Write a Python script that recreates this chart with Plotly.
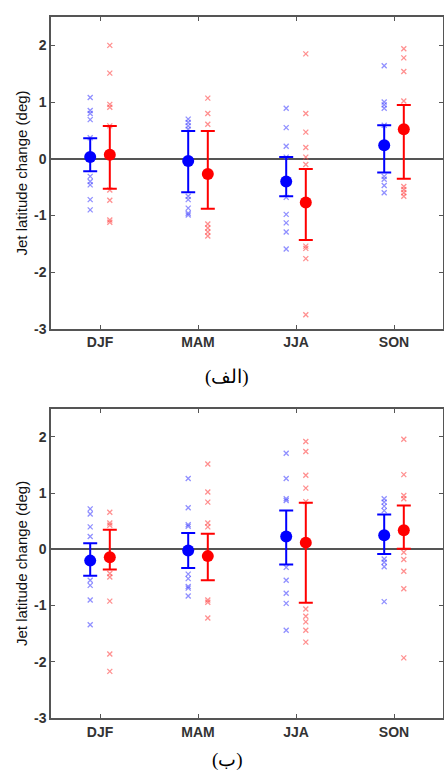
import plotly.graph_objects as go
from plotly.subplots import make_subplots

seasons = ["DJF", "MAM", "JJA", "SON"]
ytick_vals = [-3, -2, -1, 0, 1, 2]
ytick_text = ["-3", "-2", "-1", "0", "1", "2"]

# panel (الف) - individual model values
blue_pts_a = [
    [1.08, 0.85, 0.80, 0.69, 0.37, -0.31, -0.40, -0.46, -0.72, -0.90],
    [0.70, 0.64, 0.58, 0.52, -0.66, -0.72, -0.87, -0.96, -0.99],
    [0.89, 0.55, 0.22, 0.03, -0.68, -0.98, -1.13, -1.29, -1.59],
    [1.64, 1.00, 0.95, 0.89, 0.59, -0.31, -0.36, -0.47, -0.60],
]
red_pts_a = [
    [2.00, 1.51, 0.96, 0.91, 0.58, -0.55, -0.73, -1.08, -1.12],
    [1.07, 0.80, 0.61, -1.15, -1.22, -1.29, -1.36],
    [1.85, 0.80, 0.47, 0.20, 0.03, -0.10, -1.54, -1.58, -1.76, -2.75],
    [1.94, 1.78, 1.54, 1.02, -0.49, -0.54, -0.60, -0.66],
]
blue_mean_a = [0.03, -0.04, -0.40, 0.24]
blue_hi_a = [0.36, 0.49, 0.03, 0.59]
blue_lo_a = [-0.22, -0.59, -0.66, -0.24]
red_mean_a = [0.07, -0.27, -0.77, 0.52]
red_hi_a = [0.58, 0.49, -0.18, 0.95]
red_lo_a = [-0.53, -0.88, -1.43, -0.35]

# panel (ب)
blue_pts_b = [
    [0.72, 0.63, 0.40, 0.23, -0.55, -0.64, -0.90, -1.34],
    [1.26, 0.74, 0.44, 0.41, -0.44, -0.52, -0.66, -0.69, -0.83],
    [1.71, 1.26, 0.90, 0.87, -0.32, -0.55, -0.78, -0.96, -1.44],
    [0.90, 0.84, 0.77, 0.69, -0.17, -0.23, -0.31, -0.93],
]
red_pts_b = [
    [0.66, 0.47, 0.43, -0.43, -0.49, -0.92, -1.86, -2.17],
    [1.52, 1.02, 0.84, 0.47, 0.40, -0.90, -0.94, -1.22],
    [1.92, 1.74, 1.32, 1.09, 0.85, -1.06, -1.19, -1.29, -1.44, -1.65],
    [1.96, 1.33, 0.96, 0.90, -0.05, -0.18, -0.39, -0.70, -1.93],
]
blue_mean_b = [-0.20, -0.02, 0.23, 0.25]
blue_hi_b = [0.11, 0.29, 0.69, 0.62]
blue_lo_b = [-0.47, -0.33, -0.27, -0.08]
red_mean_b = [-0.14, -0.12, 0.12, 0.34]
red_hi_b = [0.35, 0.28, 0.83, 0.78]
red_lo_b = [-0.36, -0.55, -0.95, 0.01]

captions = ["(الف)", "(ب)"]

fig = make_subplots(rows=2, cols=1)

def add_panel(row, pts, mean, hi, lo, offset, color, light):
    xs, ys = [], []
    for i, vals in enumerate(pts):
        xs += [i + 1 + offset] * len(vals)
        ys += vals
    fig.add_trace(go.Scatter(
        x=xs, y=ys, mode="markers",
        marker=dict(symbol="x-thin", size=5, line=dict(width=1.3, color=light)),
        showlegend=False, hoverinfo="y"), row, 1)
    fig.add_trace(go.Scatter(
        x=[i + 1 + offset for i in range(4)], y=mean, mode="markers",
        marker=dict(symbol="circle", size=12, color=color),
        error_y=dict(type="data", symmetric=False,
                     array=[h - m for h, m in zip(hi, mean)],
                     arrayminus=[m - l for m, l in zip(mean, lo)],
                     color=color, thickness=2, width=7),
        showlegend=False), row, 1)

blue = "#0000ff"
red = "#ff0000"
lblue = "rgba(70,70,255,0.6)"
lred = "rgba(255,70,70,0.6)"

add_panel(1, blue_pts_a, blue_mean_a, blue_hi_a, blue_lo_a, -0.1, blue, lblue)
add_panel(1, red_pts_a, red_mean_a, red_hi_a, red_lo_a, 0.1, red, lred)
add_panel(2, blue_pts_b, blue_mean_b, blue_hi_b, blue_lo_b, -0.1, blue, lblue)
add_panel(2, red_pts_b, red_mean_b, red_hi_b, red_lo_b, 0.1, red, lred)

tickfont = dict(family="Liberation Sans, Arial", size=14, color="#333333", weight="bold")
axis_style = dict(showline=True, linecolor="#555555", linewidth=1.5, mirror="ticks",
                  ticks="inside", ticklen=4, tickcolor="#555555", showgrid=False,
                  tickfont=tickfont, automargin=False)

fig.update_xaxes(range=[0.5, 4.5], tickvals=[1, 2, 3, 4], ticktext=seasons,
                 zeroline=False, **axis_style)
fig.update_yaxes(range=[-3, 2.5], tickvals=ytick_vals, ticktext=ytick_text,
                 zeroline=True, zerolinecolor="#555555", zerolinewidth=1.5,
                 title=dict(text="Jet latitude change (deg)", standoff=3,
                            font=dict(family="Liberation Sans, Arial", size=15, color="#111111")),
                 **axis_style)

fig.update_layout(
    xaxis=dict(domain=[0, 1]), xaxis2=dict(domain=[0, 1]),
    yaxis=dict(domain=[0.555, 1.0]), yaxis2=dict(domain=[0.0, 0.441]),
    width=444, height=770,
    margin=dict(l=51, r=1, t=17, b=52),
    plot_bgcolor="white", paper_bgcolor="white",
)

fig.add_annotation(text=captions[0], xref="paper", yref="paper", x=0.45, y=0.487,
                   showarrow=False, yanchor="middle",
                   font=dict(family="Liberation Serif, DejaVu Serif, serif", size=19, color="black"))
fig.add_annotation(text=captions[1], xref="paper", yref="paper", x=0.45, y=-0.06,
                   showarrow=False, yanchor="middle",
                   font=dict(family="Liberation Serif, DejaVu Serif, serif", size=19, color="black"))

# page body has an 8px default margin; drop it so the figure fills the window
fig.write_html("out.html", config={"displayModeBar": False},
               post_script="document.body.style.margin='0';")
